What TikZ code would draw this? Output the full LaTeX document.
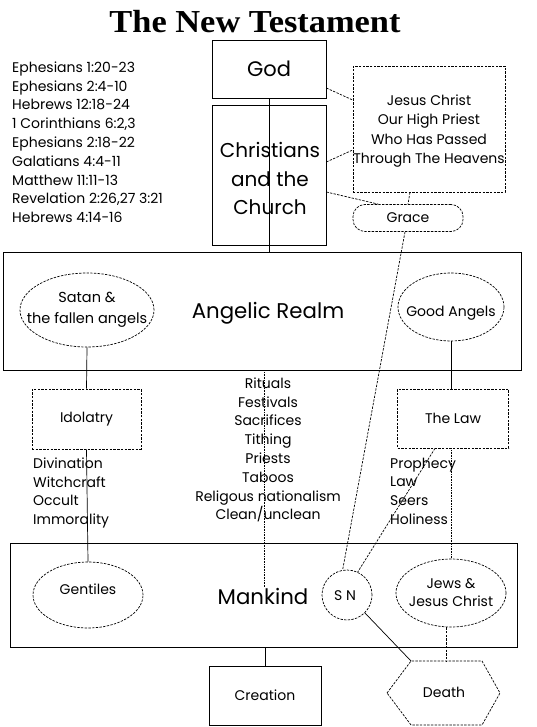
\documentclass[tikz,border=0pt]{standalone}
\usepackage{fontspec}
\setmainfont{Poppins}
\newfontfamily\titlefont{Liberation Serif}
\usetikzlibrary{shapes.geometric}
\tikzset{
  lw/.style={line width=0.7pt},
  box/.style={draw, lw, inner sep=0pt},
  dsh/.style={dash pattern=on 2.4pt off 1.3pt},
  dbox/.style={box, dsh},
  oval/.style={draw, lw, dsh, ellipse, inner sep=0pt},
  txt/.style={font=\fontsize{14}{18.8}\selectfont, inner sep=0pt},
  big/.style={font=\fontsize{21.3}{26}\selectfont, inner sep=0pt},
  conn/.style={lw},
  dconn/.style={lw, dsh},
  dotconn/.style={lw, dash pattern=on 0.8pt off 0.8pt},
}
\begin{document}
\begin{tikzpicture}[x=1pt,y=-1pt]
\useasboundingbox (0,0) rectangle (536,727);

\node[font=\titlefont\bfseries\fontsize{32}{32}\selectfont, inner sep=0pt, anchor=base] (title) at (255,33) {\scalebox{1.075}[1]{The New Testament}};

\node[txt, anchor=north west, align=left] (refs) at (12,61.5) {Ephesians 1:20-23\\Ephesians 2:4-10\\Hebrews 12:18-24\\1 Corinthians 6:2,3\\Ephesians 2:18-22\\Galatians 4:4-11\\Matthew 11:11-13\\Revelation 2:26,27 3:21\\Hebrews 4:14-16};

\node[box, minimum width=114, minimum height=58, font=\fontsize{21}{26}\selectfont] (god) at (269,69) {God};
\node[box, minimum width=114, minimum height=140, font=\fontsize{20}{28.5}\selectfont] (church) at (269,175) {};
\node[align=center, font=\fontsize{20}{28.5}\selectfont, inner sep=0pt] (churchtext) at (270,178.5) {Christians\\and the\\Church};

\node[dbox, minimum width=152, minimum height=126] (jesus) at (429,129) {};
\node[txt, align=center, font=\fontsize{14}{19.3}\selectfont] (jesustext) at (429,131) {Jesus Christ\\Our High Priest\\Who Has Passed\\Through The Heavens};

\node[dbox, rounded corners=12pt, minimum width=110, minimum height=27, txt] (grace) at (408,218) {Grace};

\node[box, minimum width=518, minimum height=118] (angelic) at (262,311) {};
\node[big] (angeliclabel) at (268,313) {Angelic Realm};
\node[oval, minimum width=134, minimum height=74] (satan) at (87,310) {};
\node[txt, align=center, font=\fontsize{14.5}{21}\selectfont] (satantext) at (87,310) {Satan \&\\the fallen angels};
\node[oval, minimum width=106, minimum height=68] (good) at (451,307) {};
\node[txt] (goodtext) at (451,313) {Good Angels};

\node[dbox, minimum width=109, minimum height=60, txt] (idol) at (86.5,419) {Idolatry};
\node[dbox, minimum width=111, minimum height=59, txt] (law) at (453,418.5) {The Law};

\node[txt, anchor=north west, align=left] (idollist) at (33,457.5) {Divination\\Witchcraft\\Occult\\Immorality};
\node[txt, anchor=north west, align=left] (lawlist) at (390,457.5) {Prophecy\\Law\\Seers\\Holiness};
\node[txt, anchor=north, align=center] (midlist) at (268,377.5) {Rituals\\Festivals\\Sacrifices\\Tithing\\Priests\\Taboos\\Religous nationalism\\Clean/unclean};

\node[box, minimum width=507, minimum height=104] (mankind) at (263.5,595) {};
\node[big] (mankindlabel) at (263,596) {Mankind};
\node[oval, minimum width=110, minimum height=66] (gentiles) at (88,595) {};
\node[txt] (gentilestext) at (88,589) {Gentiles};
\node[draw, lw, dsh, circle, minimum size=50, inner sep=0pt] (sn) at (347,595) {};
\node[txt] (sntext) at (345,596) {S N};
\node[oval, minimum width=110, minimum height=68] (jews) at (451,593) {};
\node[txt, align=center, font=\fontsize{14}{18}\selectfont] (jewstext) at (451,593) {Jews \&\\Jesus Christ};

\node[box, minimum width=112, minimum height=59, txt] (creation) at (265,695.5) {Creation};

\coordinate (dL) at (387,693);
\coordinate (dTL) at (411,661);
\coordinate (dTR) at (482,661);
\coordinate (dR) at (500,693);
\coordinate (dBR) at (482,725);
\coordinate (dBL) at (411,725);
\draw[lw, dsh] (dL) -- (dTL) -- (dTR) -- (dR) -- (dBR) -- (dBL) -- cycle;
\node[txt] (death) at (444,692) {Death};

% connectors
\draw[conn] (god.south) -- (god.south |- angelic.north);
\draw[dconn] (god.east |- 0,88) -- (jesus.west |- 0,100);
\draw[dconn] (church.east |- 0,162) -- (jesus.west |- 0,150);
\draw[dconn] (church.east |- 0,192) -- (grace.155);
\draw[dconn] (jesus.south -| 410,0) -- (grace.north -| 408,0);
\draw[dconn] (grace.south -| 405,0) -- (sn.100);
\draw[conn] (satan.south) -- (idol.north);
\draw[conn] (idol.south) -- (gentiles.north);
\draw[conn] (good.south) -- (law.north -| good.south);
\draw[dotconn] (law.south -| 451,0) -- (jews.north);
\draw[dconn] (law.south -| 435,0) -- (sn.65);
\draw[dotconn] (angelic.south -| 264,0) -- (mankindlabel.north -| 264,0);
\draw[conn] (mankind.south -| creation.north) -- (creation.north);
\draw[conn] (sn.-45) -- (dTL);
\draw[dconn] (jews.south -| 446,0) -- (dTL -| 446,0);
\end{tikzpicture}
\end{document}
